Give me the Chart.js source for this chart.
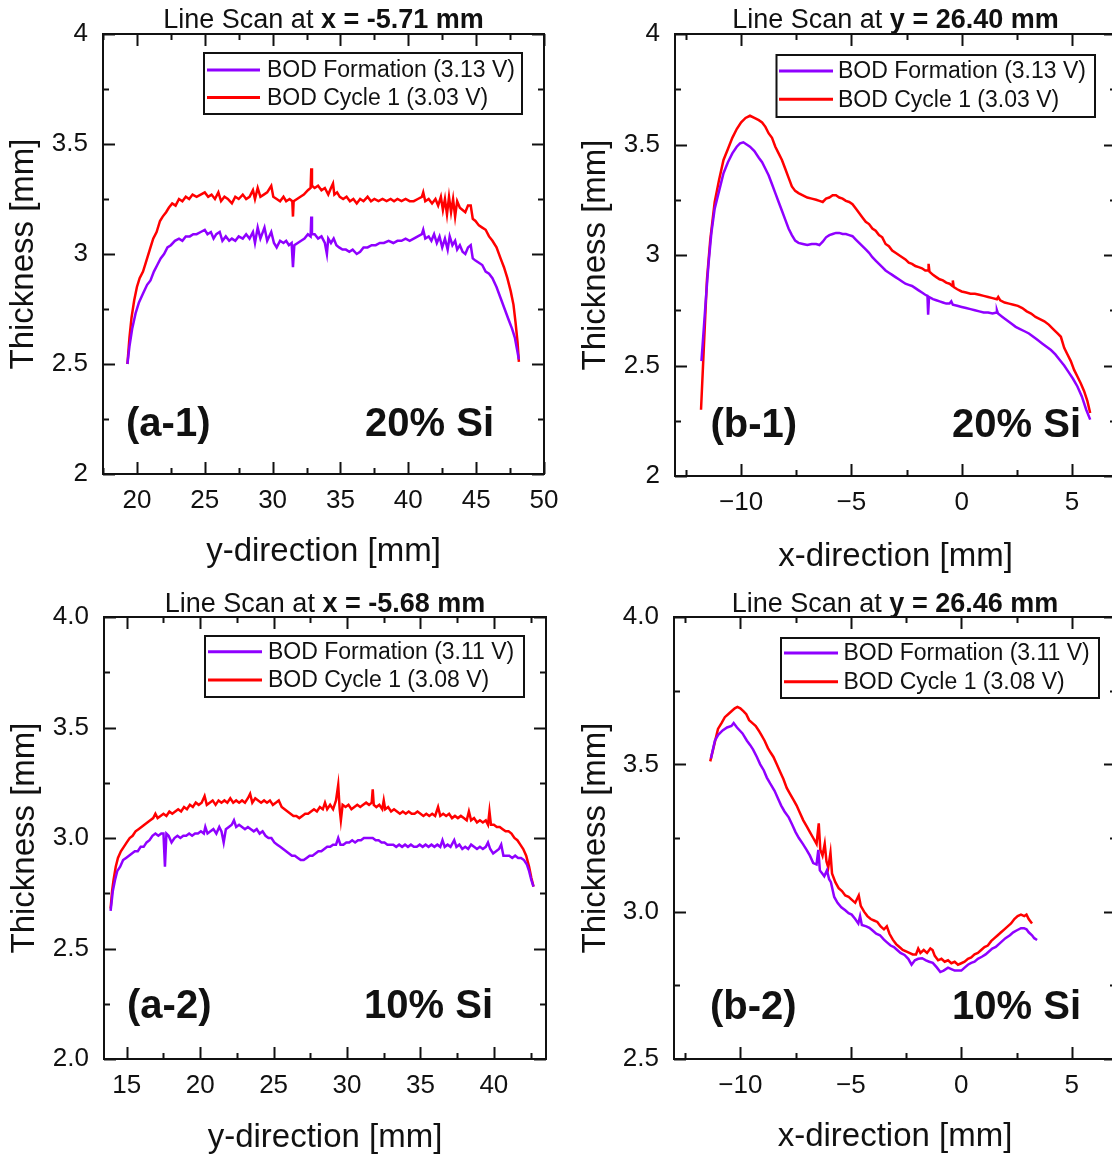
<!DOCTYPE html>
<html>
<head>
<meta charset="utf-8">
<title>Line scans</title>
<script src="https://cdn.jsdelivr.net/npm/chart.js@4.4.1/dist/chart.umd.min.js"></script>
<style>
  html, body { margin: 0; padding: 0; background: #fff; overflow: hidden; }
  body { width: 1112px; height: 1156px; position: relative; }
  canvas { position: absolute; }
</style>
</head>
<body>
<canvas id="a1" width="575" height="580" style="left:0;top:0"></canvas>
<canvas id="b1" width="570" height="580" style="left:560px;top:0"></canvas>
<canvas id="a2" width="575" height="576" style="left:0;top:580px"></canvas>
<canvas id="b2" width="570" height="576" style="left:560px;top:580px"></canvas>
<script>
// ---- data: [position mm, thickness mm] ----

// (a-1) 20% Si, scan at x = -5.71 mm
const a1Formation = [
  [19.30, 2.50], [19.45, 2.58], [19.65, 2.66], [19.90, 2.73], [20.15, 2.78], [20.45, 2.82],
  [20.75, 2.86], [21.00, 2.88], [21.25, 2.92], [21.50, 2.95], [21.75, 2.98], [22.00, 3.00],
  [22.25, 3.03], [22.50, 3.04], [22.80, 3.06], [23.10, 3.07], [23.35, 3.06], [23.60, 3.08],
  [23.90, 3.08], [24.15, 3.09], [24.40, 3.09], [24.70, 3.10], [25.00, 3.11], [25.20, 3.09],
  [25.45, 3.10], [25.65, 3.07], [25.85, 3.09], [26.10, 3.10], [26.30, 3.06], [26.55, 3.08],
  [26.80, 3.06], [27.00, 3.07], [27.25, 3.06], [27.50, 3.08], [27.80, 3.07], [28.05, 3.09],
  [28.30, 3.07], [28.55, 3.10], [28.70, 3.05], [28.90, 3.12], [29.10, 3.07], [29.40, 3.12],
  [29.60, 3.06], [29.90, 3.10], [30.10, 3.05], [30.30, 3.03], [30.55, 3.06], [30.80, 3.05],
  [31.00, 3.06], [31.20, 3.04], [31.40, 3.05], [31.50, 2.94], [31.60, 3.04], [31.85, 3.05],
  [32.10, 3.06], [32.35, 3.07], [32.60, 3.09], [32.80, 3.08], [32.85, 3.17], [32.90, 3.09],
  [33.10, 3.09], [33.35, 3.07], [33.60, 3.08], [33.85, 3.05], [34.00, 3.00], [34.10, 3.07],
  [34.30, 3.05], [34.50, 3.07], [34.70, 3.04], [34.90, 3.03], [35.15, 3.02], [35.40, 3.02],
  [35.65, 3.01], [35.90, 3.02], [36.20, 3.00], [36.45, 3.01], [36.70, 3.03], [37.00, 3.03],
  [37.30, 3.04], [37.60, 3.04], [37.90, 3.05], [38.20, 3.05], [38.55, 3.06], [38.90, 3.05],
  [39.20, 3.06], [39.50, 3.06], [39.80, 3.07], [40.10, 3.06], [40.40, 3.07], [40.70, 3.08],
  [41.00, 3.09], [41.10, 3.11], [41.25, 3.07], [41.50, 3.08], [41.70, 3.06], [41.90, 3.09],
  [42.10, 3.05], [42.30, 3.08], [42.50, 3.03], [42.70, 3.07], [42.90, 3.02], [43.05, 3.08],
  [43.25, 3.04], [43.45, 3.06], [43.60, 3.02], [43.80, 3.04], [44.00, 3.01], [44.20, 3.00],
  [44.40, 3.03], [44.60, 3.04], [44.75, 2.98], [44.95, 2.97], [45.20, 2.96], [45.45, 2.95],
  [45.70, 2.92], [45.95, 2.91], [46.20, 2.89], [46.50, 2.85], [46.80, 2.80], [47.10, 2.75],
  [47.40, 2.70], [47.65, 2.66], [47.85, 2.62], [48.00, 2.57], [48.15, 2.52]
];
const a1Cycle = [
  [19.30, 2.50], [19.45, 2.62], [19.60, 2.71], [19.80, 2.79], [20.00, 2.85], [20.20, 2.89],
  [20.45, 2.92], [20.70, 2.97], [21.00, 3.03], [21.20, 3.07], [21.45, 3.10], [21.70, 3.15],
  [21.90, 3.17], [22.15, 3.19], [22.35, 3.21], [22.60, 3.23], [22.85, 3.22], [23.10, 3.25],
  [23.35, 3.24], [23.60, 3.26], [23.85, 3.25], [24.10, 3.27], [24.40, 3.26], [24.70, 3.27],
  [25.00, 3.28], [25.25, 3.26], [25.50, 3.27], [25.75, 3.25], [26.00, 3.28], [26.20, 3.24],
  [26.45, 3.26], [26.70, 3.25], [27.00, 3.23], [27.25, 3.26], [27.50, 3.25], [27.80, 3.27],
  [28.05, 3.25], [28.30, 3.26], [28.55, 3.29], [28.70, 3.25], [28.90, 3.30], [29.10, 3.26],
  [29.35, 3.27], [29.60, 3.28], [29.90, 3.31], [30.05, 3.26], [30.30, 3.25], [30.55, 3.24],
  [30.80, 3.26], [31.00, 3.24], [31.25, 3.25], [31.45, 3.24], [31.50, 3.17], [31.55, 3.24],
  [31.80, 3.25], [32.05, 3.26], [32.30, 3.27], [32.60, 3.29], [32.80, 3.30], [32.85, 3.39],
  [32.90, 3.31], [33.10, 3.30], [33.35, 3.31], [33.60, 3.29], [33.85, 3.30], [34.10, 3.27],
  [34.30, 3.30], [34.45, 3.32], [34.55, 3.27], [34.75, 3.28], [34.95, 3.26], [35.20, 3.25],
  [35.45, 3.26], [35.70, 3.24], [35.95, 3.25], [36.20, 3.23], [36.45, 3.25], [36.70, 3.24],
  [37.00, 3.26], [37.25, 3.24], [37.50, 3.25], [37.80, 3.24], [38.10, 3.25], [38.40, 3.24],
  [38.70, 3.25], [38.95, 3.24], [39.20, 3.25], [39.50, 3.24], [39.80, 3.25], [40.10, 3.24],
  [40.40, 3.24], [40.70, 3.25], [41.00, 3.26], [41.10, 3.28], [41.25, 3.24], [41.50, 3.25],
  [41.75, 3.23], [42.00, 3.25], [42.20, 3.22], [42.40, 3.26], [42.55, 3.20], [42.70, 3.25],
  [42.85, 3.18], [43.00, 3.26], [43.15, 3.19], [43.30, 3.25], [43.45, 3.17], [43.60, 3.24],
  [43.80, 3.21], [44.00, 3.20], [44.20, 3.19], [44.40, 3.22], [44.60, 3.22], [44.75, 3.16],
  [44.95, 3.15], [45.20, 3.13], [45.45, 3.12], [45.70, 3.11], [45.95, 3.08], [46.20, 3.06],
  [46.50, 3.03], [46.80, 2.98], [47.05, 2.94], [47.30, 2.89], [47.55, 2.83], [47.75, 2.77],
  [47.90, 2.69], [48.05, 2.60], [48.15, 2.51]
];

// (b-1) 20% Si, scan at y = 26.40 mm
const b1Formation = [
  [-11.80, 2.52], [-11.70, 2.66], [-11.60, 2.80], [-11.48, 2.96], [-11.35, 3.10], [-11.20, 3.21],
  [-11.00, 3.29], [-10.80, 3.37], [-10.60, 3.42], [-10.40, 3.46], [-10.20, 3.49], [-10.05, 3.505],
  [-9.90, 3.51], [-9.75, 3.50], [-9.60, 3.49], [-9.40, 3.47], [-9.20, 3.44], [-9.05, 3.42],
  [-8.90, 3.39], [-8.75, 3.36], [-8.60, 3.32], [-8.45, 3.28], [-8.30, 3.24], [-8.15, 3.20],
  [-8.00, 3.16], [-7.85, 3.12], [-7.70, 3.09], [-7.55, 3.065], [-7.40, 3.055], [-7.20, 3.05],
  [-7.00, 3.045], [-6.80, 3.05], [-6.60, 3.05], [-6.45, 3.045], [-6.30, 3.06], [-6.15, 3.08],
  [-6.00, 3.09], [-5.85, 3.095], [-5.70, 3.10], [-5.55, 3.10], [-5.40, 3.095], [-5.25, 3.095],
  [-5.10, 3.09], [-4.95, 3.085], [-4.80, 3.07], [-4.65, 3.055], [-4.50, 3.04], [-4.35, 3.025],
  [-4.20, 3.01], [-4.05, 2.99], [-3.90, 2.975], [-3.75, 2.96], [-3.60, 2.945], [-3.45, 2.93],
  [-3.30, 2.92], [-3.15, 2.91], [-3.00, 2.90], [-2.85, 2.89], [-2.70, 2.88], [-2.55, 2.87],
  [-2.40, 2.865], [-2.25, 2.86], [-2.10, 2.85], [-1.95, 2.84], [-1.80, 2.83], [-1.65, 2.82],
  [-1.55, 2.815], [-1.52, 2.73], [-1.48, 2.81], [-1.30, 2.80], [-1.15, 2.795], [-1.00, 2.79],
  [-0.85, 2.785], [-0.70, 2.78], [-0.55, 2.78], [-0.47, 2.79], [-0.40, 2.775], [-0.20, 2.77],
  [0.00, 2.765], [0.20, 2.76], [0.40, 2.755], [0.60, 2.75], [0.80, 2.745], [1.00, 2.74],
  [1.20, 2.74], [1.40, 2.735], [1.58, 2.74], [1.60, 2.75], [1.65, 2.735], [1.85, 2.72],
  [2.05, 2.705], [2.25, 2.69], [2.45, 2.675], [2.65, 2.665], [2.85, 2.655], [3.05, 2.645],
  [3.25, 2.63], [3.45, 2.615], [3.65, 2.60], [3.85, 2.585], [4.05, 2.57], [4.25, 2.55],
  [4.45, 2.525], [4.65, 2.50], [4.85, 2.47], [5.05, 2.44], [5.25, 2.405], [5.45, 2.36],
  [5.65, 2.30], [5.83, 2.255]
];
const b1Cycle = [
  [-11.82, 2.30], [-11.72, 2.52], [-11.62, 2.74], [-11.55, 2.89], [-11.40, 3.07], [-11.20, 3.24],
  [-11.00, 3.34], [-10.80, 3.43], [-10.60, 3.48], [-10.40, 3.53], [-10.20, 3.57], [-10.00, 3.60],
  [-9.80, 3.62], [-9.60, 3.63], [-9.40, 3.62], [-9.20, 3.61], [-9.05, 3.60], [-8.90, 3.58],
  [-8.75, 3.55], [-8.60, 3.53], [-8.45, 3.49], [-8.30, 3.46], [-8.15, 3.43], [-8.00, 3.39],
  [-7.85, 3.35], [-7.70, 3.31], [-7.55, 3.29], [-7.40, 3.28], [-7.20, 3.27], [-7.00, 3.26],
  [-6.80, 3.255], [-6.60, 3.25], [-6.45, 3.245], [-6.30, 3.24], [-6.15, 3.255], [-6.00, 3.26],
  [-5.85, 3.27], [-5.70, 3.27], [-5.55, 3.26], [-5.40, 3.255], [-5.25, 3.245], [-5.10, 3.24],
  [-4.95, 3.23], [-4.80, 3.21], [-4.65, 3.19], [-4.50, 3.17], [-4.35, 3.15], [-4.20, 3.14],
  [-4.05, 3.12], [-3.90, 3.11], [-3.75, 3.09], [-3.60, 3.08], [-3.45, 3.05], [-3.30, 3.04],
  [-3.15, 3.02], [-3.00, 3.01], [-2.85, 3.00], [-2.70, 2.99], [-2.55, 2.98], [-2.40, 2.965],
  [-2.25, 2.96], [-2.10, 2.95], [-1.95, 2.945], [-1.80, 2.94], [-1.65, 2.93], [-1.52, 2.93],
  [-1.50, 2.96], [-1.46, 2.925], [-1.30, 2.91], [-1.15, 2.90], [-1.00, 2.89], [-0.85, 2.885],
  [-0.70, 2.875], [-0.55, 2.87], [-0.42, 2.86], [-0.40, 2.885], [-0.36, 2.855], [-0.20, 2.845],
  [0.00, 2.835], [0.20, 2.83], [0.40, 2.825], [0.60, 2.825], [0.80, 2.82], [1.00, 2.815],
  [1.20, 2.81], [1.40, 2.805], [1.60, 2.80], [1.66, 2.81], [1.75, 2.795], [1.95, 2.785],
  [2.15, 2.78], [2.35, 2.775], [2.55, 2.77], [2.75, 2.76], [2.95, 2.745], [3.15, 2.735],
  [3.35, 2.72], [3.55, 2.71], [3.75, 2.70], [3.95, 2.685], [4.15, 2.665], [4.35, 2.645],
  [4.50, 2.63], [4.65, 2.58], [4.80, 2.55], [4.95, 2.52], [5.10, 2.48], [5.25, 2.45],
  [5.40, 2.42], [5.55, 2.385], [5.70, 2.34], [5.83, 2.285]
];

// (a-2) 10% Si, scan at x = -5.68 mm
const a2Formation = [
  [13.90, 2.67], [14.05, 2.76], [14.20, 2.81], [14.35, 2.85], [14.55, 2.87], [14.75, 2.90],
  [14.95, 2.91], [15.15, 2.92], [15.35, 2.93], [15.55, 2.94], [15.75, 2.94], [15.95, 2.96],
  [16.15, 2.96], [16.35, 2.98], [16.55, 2.99], [16.75, 3.01], [16.95, 3.02], [17.15, 3.01],
  [17.35, 3.02], [17.50, 3.02], [17.60, 2.87], [17.70, 3.02], [17.85, 3.01], [18.05, 2.98],
  [18.25, 3.00], [18.45, 3.01], [18.65, 3.00], [18.85, 3.01], [19.05, 3.01], [19.25, 3.02],
  [19.45, 3.01], [19.65, 3.02], [19.85, 3.02], [20.05, 3.03], [20.25, 3.02], [20.35, 3.05],
  [20.50, 3.02], [20.70, 3.03], [20.90, 3.04], [21.10, 3.02], [21.30, 3.05], [21.45, 3.03],
  [21.60, 2.98], [21.75, 3.04], [21.95, 3.05], [22.15, 3.06], [22.30, 3.08], [22.45, 3.05],
  [22.65, 3.06], [22.85, 3.05], [23.05, 3.04], [23.25, 3.05], [23.45, 3.04], [23.65, 3.03],
  [23.85, 3.04], [24.05, 3.02], [24.25, 3.03], [24.45, 3.01], [24.65, 3.00], [24.85, 3.00],
  [25.05, 2.98], [25.25, 2.97], [25.45, 2.96], [25.65, 2.95], [25.85, 2.94], [26.05, 2.93],
  [26.25, 2.92], [26.45, 2.92], [26.65, 2.91], [26.85, 2.90], [27.05, 2.90], [27.25, 2.91],
  [27.45, 2.92], [27.65, 2.92], [27.85, 2.93], [28.05, 2.94], [28.25, 2.94], [28.45, 2.95],
  [28.65, 2.96], [28.85, 2.96], [29.05, 2.97], [29.25, 2.97], [29.40, 3.00], [29.55, 2.97],
  [29.75, 2.97], [29.95, 2.98], [30.15, 2.98], [30.35, 2.99], [30.55, 2.98], [30.75, 2.99],
  [30.95, 2.99], [31.15, 3.00], [31.35, 3.00], [31.55, 3.00], [31.75, 3.00], [31.95, 2.99],
  [32.15, 2.99], [32.35, 2.98], [32.55, 2.98], [32.75, 2.97], [32.95, 2.97], [33.15, 2.97],
  [33.35, 2.96], [33.55, 2.97], [33.75, 2.96], [33.95, 2.97], [34.15, 2.96], [34.35, 2.97],
  [34.55, 2.96], [34.75, 2.96], [34.95, 2.97], [35.15, 2.96], [35.35, 2.97], [35.55, 2.96],
  [35.75, 2.97], [35.95, 2.96], [36.15, 2.97], [36.35, 2.96], [36.50, 2.99], [36.65, 2.96],
  [36.85, 2.97], [37.05, 2.96], [37.30, 2.99], [37.45, 2.96], [37.65, 2.97], [37.85, 2.95],
  [38.05, 2.96], [38.25, 2.95], [38.45, 2.97], [38.65, 2.96], [38.85, 2.95], [39.05, 2.96],
  [39.25, 2.95], [39.45, 2.96], [39.60, 2.98], [39.75, 2.95], [39.95, 2.93], [40.15, 2.94],
  [40.35, 2.95], [40.50, 2.97], [40.65, 2.92], [40.85, 2.92], [41.05, 2.92], [41.25, 2.91],
  [41.45, 2.92], [41.65, 2.91], [41.85, 2.91], [42.05, 2.90], [42.25, 2.88], [42.40, 2.85],
  [42.55, 2.81], [42.70, 2.78]
];
const a2Cycle = [
  [13.90, 2.68], [14.00, 2.76], [14.10, 2.81], [14.25, 2.87], [14.40, 2.91], [14.60, 2.94],
  [14.80, 2.96], [15.00, 2.98], [15.20, 3.00], [15.40, 3.01], [15.60, 3.03], [15.80, 3.04],
  [16.00, 3.05], [16.20, 3.06], [16.40, 3.07], [16.60, 3.08], [16.80, 3.09], [16.95, 3.11],
  [17.10, 3.09], [17.30, 3.10], [17.50, 3.11], [17.70, 3.10], [17.90, 3.12], [18.10, 3.11],
  [18.30, 3.12], [18.50, 3.13], [18.70, 3.12], [18.90, 3.14], [19.10, 3.13], [19.30, 3.15],
  [19.50, 3.14], [19.70, 3.16], [19.90, 3.15], [20.10, 3.16], [20.30, 3.19], [20.45, 3.15],
  [20.65, 3.16], [20.85, 3.17], [21.05, 3.15], [21.25, 3.17], [21.45, 3.16], [21.65, 3.17],
  [21.85, 3.16], [22.05, 3.18], [22.25, 3.16], [22.45, 3.17], [22.65, 3.16], [22.85, 3.17],
  [23.05, 3.16], [23.25, 3.18], [23.40, 3.20], [23.55, 3.16], [23.75, 3.18], [23.95, 3.17],
  [24.15, 3.16], [24.35, 3.17], [24.55, 3.16], [24.75, 3.17], [24.95, 3.15], [25.15, 3.16],
  [25.35, 3.17], [25.55, 3.14], [25.75, 3.13], [25.95, 3.12], [26.15, 3.11], [26.35, 3.10],
  [26.55, 3.10], [26.75, 3.09], [26.95, 3.10], [27.15, 3.11], [27.35, 3.11], [27.55, 3.12],
  [27.75, 3.13], [27.95, 3.12], [28.15, 3.14], [28.35, 3.13], [28.50, 3.16], [28.65, 3.13],
  [28.85, 3.15], [29.05, 3.13], [29.25, 3.17], [29.40, 3.24], [29.50, 3.13], [29.58, 3.08],
  [29.70, 3.15], [29.90, 3.14], [30.10, 3.15], [30.30, 3.13], [30.50, 3.14], [30.70, 3.15],
  [30.90, 3.14], [31.10, 3.15], [31.30, 3.16], [31.50, 3.15], [31.68, 3.16], [31.75, 3.22],
  [31.82, 3.15], [32.00, 3.14], [32.20, 3.15], [32.40, 3.13], [32.50, 3.17], [32.60, 3.13],
  [32.80, 3.14], [33.00, 3.12], [33.20, 3.13], [33.40, 3.12], [33.60, 3.11], [33.80, 3.12],
  [34.00, 3.11], [34.20, 3.12], [34.40, 3.11], [34.60, 3.11], [34.80, 3.12], [35.00, 3.11],
  [35.20, 3.10], [35.40, 3.11], [35.60, 3.10], [35.80, 3.11], [36.00, 3.10], [36.20, 3.14],
  [36.35, 3.10], [36.55, 3.11], [36.75, 3.10], [36.95, 3.11], [37.15, 3.09], [37.35, 3.10],
  [37.55, 3.09], [37.75, 3.10], [37.95, 3.09], [38.15, 3.08], [38.30, 3.12], [38.45, 3.08],
  [38.65, 3.09], [38.85, 3.07], [39.05, 3.08], [39.25, 3.07], [39.45, 3.08], [39.60, 3.06],
  [39.70, 3.12], [39.80, 3.06], [40.00, 3.06], [40.20, 3.05], [40.40, 3.05], [40.60, 3.04],
  [40.80, 3.03], [41.00, 3.03], [41.20, 3.02], [41.40, 3.00], [41.60, 2.99], [41.80, 2.97],
  [42.00, 2.95], [42.20, 2.92], [42.40, 2.87], [42.55, 2.82], [42.70, 2.78]
];

// (b-2) 10% Si, scan at y = 26.46 mm
const b2Formation = [
  [-11.33, 3.52], [-11.15, 3.58], [-11.00, 3.60], [-10.80, 3.615], [-10.60, 3.625], [-10.40, 3.63],
  [-10.30, 3.64], [-10.15, 3.625], [-9.90, 3.605], [-9.70, 3.58], [-9.55, 3.565], [-9.42, 3.55],
  [-9.25, 3.525], [-9.10, 3.50], [-8.94, 3.48], [-8.80, 3.455], [-8.65, 3.435], [-8.45, 3.41],
  [-8.30, 3.385], [-8.15, 3.36], [-8.00, 3.34], [-7.81, 3.32], [-7.65, 3.295], [-7.50, 3.27],
  [-7.35, 3.25], [-7.17, 3.23], [-7.00, 3.21], [-6.85, 3.19], [-6.70, 3.165], [-6.55, 3.16],
  [-6.47, 3.21], [-6.40, 3.14], [-6.30, 3.13], [-6.20, 3.12], [-6.08, 3.14], [-5.98, 3.11],
  [-5.90, 3.10], [-5.75, 3.05], [-5.60, 3.03], [-5.43, 3.015], [-5.25, 3.005], [-5.10, 2.995],
  [-4.96, 2.99], [-4.80, 2.975], [-4.66, 2.96], [-4.58, 2.985], [-4.50, 2.955], [-4.30, 2.95],
  [-4.16, 2.945], [-4.00, 2.935], [-3.85, 2.925], [-3.68, 2.92], [-3.50, 2.905], [-3.35, 2.895],
  [-3.20, 2.885], [-3.05, 2.88], [-2.90, 2.87], [-2.75, 2.86], [-2.57, 2.853], [-2.40, 2.84],
  [-2.25, 2.82], [-2.10, 2.835], [-1.95, 2.84], [-1.77, 2.842], [-1.60, 2.835], [-1.45, 2.83],
  [-1.29, 2.826], [-1.10, 2.81], [-0.95, 2.795], [-0.80, 2.80], [-0.60, 2.81], [-0.45, 2.805],
  [-0.30, 2.80], [-0.15, 2.80], [0.00, 2.80], [0.15, 2.81], [0.30, 2.82], [0.45, 2.826],
  [0.60, 2.83], [0.75, 2.84], [0.93, 2.847], [1.10, 2.855], [1.25, 2.865], [1.40, 2.875],
  [1.56, 2.88], [1.70, 2.89], [1.85, 2.90], [2.00, 2.91], [2.20, 2.92], [2.35, 2.93],
  [2.52, 2.937], [2.70, 2.944], [2.84, 2.944], [2.95, 2.94], [3.05, 2.93], [3.20, 2.92],
  [3.30, 2.91], [3.43, 2.904]
];
const b2Cycle = [
  [-11.36, 3.51], [-11.20, 3.56], [-11.01, 3.62], [-10.85, 3.64], [-10.70, 3.66], [-10.55, 3.67],
  [-10.40, 3.68], [-10.25, 3.69], [-10.13, 3.695], [-10.00, 3.69], [-9.85, 3.68], [-9.73, 3.67],
  [-9.60, 3.65], [-9.45, 3.64], [-9.30, 3.63], [-9.17, 3.615], [-9.05, 3.60], [-8.90, 3.58],
  [-8.75, 3.555], [-8.63, 3.54], [-8.50, 3.525], [-8.35, 3.50], [-8.20, 3.475], [-8.05, 3.45],
  [-7.90, 3.42], [-7.75, 3.40], [-7.60, 3.38], [-7.45, 3.36], [-7.30, 3.335], [-7.15, 3.31],
  [-7.00, 3.29], [-6.85, 3.27], [-6.70, 3.25], [-6.55, 3.23], [-6.45, 3.30], [-6.38, 3.21],
  [-6.28, 3.19], [-6.18, 3.23], [-6.10, 3.17], [-6.02, 3.15], [-5.92, 3.20], [-5.85, 3.13],
  [-5.70, 3.10], [-5.55, 3.08], [-5.40, 3.07], [-5.25, 3.055], [-5.10, 3.05], [-4.95, 3.04],
  [-4.80, 3.03], [-4.64, 3.055], [-4.55, 3.02], [-4.40, 3.00], [-4.25, 2.985], [-4.10, 2.975],
  [-3.95, 2.97], [-3.80, 2.965], [-3.65, 2.95], [-3.50, 2.94], [-3.37, 2.95], [-3.25, 2.925],
  [-3.10, 2.905], [-2.95, 2.89], [-2.80, 2.88], [-2.65, 2.87], [-2.50, 2.865], [-2.35, 2.86],
  [-2.20, 2.855], [-2.05, 2.855], [-1.95, 2.875], [-1.85, 2.86], [-1.70, 2.87], [-1.55, 2.86],
  [-1.40, 2.875], [-1.30, 2.87], [-1.20, 2.85], [-1.05, 2.835], [-0.90, 2.84], [-0.75, 2.83],
  [-0.60, 2.835], [-0.45, 2.825], [-0.30, 2.83], [-0.15, 2.82], [0.00, 2.825], [0.15, 2.83],
  [0.30, 2.84], [0.45, 2.845], [0.60, 2.855], [0.75, 2.86], [0.90, 2.87], [1.05, 2.88],
  [1.20, 2.885], [1.35, 2.90], [1.50, 2.91], [1.65, 2.92], [1.80, 2.93], [1.95, 2.94],
  [2.10, 2.95], [2.25, 2.96], [2.40, 2.975], [2.55, 2.985], [2.70, 2.99], [2.85, 2.985],
  [2.95, 2.99], [3.05, 2.975], [3.20, 2.96]
];

// tick labels
const a1XTicks = [20, 25, 30, 35, 40, 45, 50];
const a2XTicks = [15, 20, 25, 30, 35, 40];
const bXTicks = [-10, -5, 0, 5];
const aYTicks = [2, 2.5, 3, 3.5, 4];
const b2YTicks = [2.5, 3, 3.5, 4];

// ---- drawing ----
const FONT = '"Liberation Sans", Arial, Helvetica, sans-serif';
const INK = '#111';
const PURPLE = '#8f00ff';
const RED = '#ff0000';

function toPoints(pairs) {
  return pairs.map(p => ({ x: p[0], y: p[1] }));
}

function minorTicks(major, min, max) {
  const step = major[1] - major[0];
  const out = [];
  for (let v = major[0] - step / 2; v <= max + 1e-9; v += step) {
    if (v >= min - 1e-9) out.push(v);
  }
  return out;
}

function minusSign(v) {
  return v < 0 ? '\u2212' + Math.abs(v) : String(v);
}

// frame, inward ticks on all four sides, legend box, title and panel tags
const panelDecor = {
  id: 'panelDecor',
  afterDatasetsDraw(chart, args, o) {
    const { ctx, chartArea: a, scales: { x, y } } = chart;
    ctx.save();
    ctx.strokeStyle = INK;
    ctx.lineWidth = 2;
    ctx.lineCap = 'butt';
    ctx.strokeRect(a.left, a.top, a.right - a.left, a.bottom - a.top);

    const seg = (x1, y1, x2, y2) => {
      ctx.beginPath(); ctx.moveTo(x1, y1); ctx.lineTo(x2, y2); ctx.stroke();
    };
    const xMarks = (vals, len) => vals.forEach(v => {
      if (v < x.min || v > x.max) return;
      const p = Math.round(x.getPixelForValue(v)) + 0.5;
      seg(p, a.bottom, p, a.bottom - len);
      seg(p, a.top, p, a.top + len);
    });
    const yMarks = (vals, len) => vals.forEach(v => {
      if (v < y.min || v > y.max) return;
      const p = Math.round(y.getPixelForValue(v)) + 0.5;
      seg(a.left, p, a.left + len, p);
      seg(a.right, p, a.right - len, p);
    });
    xMarks(o.xTicks, 12);
    xMarks(minorTicks(o.xTicks, x.min, x.max), 6);
    yMarks(o.yTicks, 12);
    yMarks(minorTicks(o.yTicks, y.min, y.max), 6);

    // legend
    const L = o.legend;
    ctx.lineWidth = 2;
    ctx.strokeRect(L.x, L.y, L.w, L.h);
    ctx.font = '23px ' + FONT;
    ctx.textAlign = 'left';
    ctx.textBaseline = 'middle';
    chart.data.datasets.forEach((ds, i) => {
      const ry = L.rows[i];
      ctx.strokeStyle = ds.borderColor;
      ctx.lineWidth = 3;
      seg(L.line[0], ry, L.line[1], ry);
      ctx.fillStyle = INK;
      ctx.fillText(ds.label, L.text, ry + 1);
    });

    // title: plain prefix + bold position
    const plainFont = '27px ' + FONT;
    const boldFont = 'bold 27px ' + FONT;
    ctx.font = plainFont;
    const w1 = ctx.measureText(o.title[0]).width;
    ctx.font = boldFont;
    const w2 = ctx.measureText(o.title[1]).width;
    const cx = (a.left + a.right) / 2;
    const x0 = cx - (w1 + w2) / 2;
    ctx.textBaseline = 'alphabetic';
    ctx.fillStyle = INK;
    ctx.font = plainFont;
    ctx.fillText(o.title[0], x0, o.titleY);
    ctx.font = boldFont;
    ctx.fillText(o.title[1], x0 + w1, o.titleY);

    // panel tag and composition
    ctx.font = 'bold 40px ' + FONT;
    ctx.textAlign = 'left';
    ctx.fillText(o.tag, a.left + o.tagLeft, a.bottom - o.tagRise);
    ctx.textAlign = 'right';
    ctx.fillText(o.comp, a.right - o.compRight, a.bottom - o.tagRise);
    ctx.restore();
  }
};

function buildPanel(id, p) {
  const tickFont = { family: FONT, size: 26 };
  const titleFont = { family: FONT, size: 33, lineHeight: 1 };
  new Chart(document.getElementById(id), {
    type: 'line',
    data: {
      datasets: [
        { label: p.labels[0], data: toPoints(p.formation), borderColor: PURPLE, borderWidth: 2.5,
          pointRadius: 0, tension: 0, fill: false },
        { label: p.labels[1], data: toPoints(p.cycle), borderColor: RED, borderWidth: 2.5,
          pointRadius: 0, tension: 0, fill: false }
      ]
    },
    options: {
      responsive: false,
      animation: false,
      events: [],
      layout: { padding: { top: p.padTop, right: p.padRight, left: 0, bottom: 0 } },
      scales: {
        x: {
          type: 'linear', min: p.xMin, max: p.xMax,
          afterBuildTicks: s => { s.ticks = p.xTicks.map(v => ({ value: v })); },
          afterFit: s => { s.height = p.xHeight; s.paddingLeft = 0; s.paddingRight = 0; },
          grid: { display: false, drawTicks: false },
          border: { display: false },
          ticks: { font: tickFont, color: INK, padding: 11, autoSkip: false, maxRotation: 0,
                   callback: v => minusSign(v) },
          title: { display: true, text: p.xTitle, font: titleFont, color: INK,
                   padding: { top: 0, bottom: p.xTitlePad } }
        },
        y: {
          type: 'linear', min: p.yMin, max: p.yMax,
          afterBuildTicks: s => { s.ticks = p.yTicks.map(v => ({ value: v })); },
          afterFit: s => { s.width = p.yWidth; s.paddingTop = 0; s.paddingBottom = 0; },
          grid: { display: false, drawTicks: false },
          border: { display: false },
          ticks: { font: tickFont, color: INK, padding: 15, autoSkip: false,
                   callback: v => p.yFixed ? v.toFixed(1) : String(v) },
          title: { display: true, text: 'Thickness [mm]', font: titleFont, color: INK,
                   padding: { top: p.yTitlePad, bottom: 0 } }
        }
      },
      plugins: {
        legend: { display: false },
        tooltip: { enabled: false },
        panelDecor: {
          xTicks: p.xTicks, yTicks: p.yTicks, legend: p.legend,
          title: p.title, titleY: p.titleY,
          tag: p.tag, comp: p.comp, tagLeft: p.tagLeft, tagRise: p.tagRise, compRight: p.compRight
        }
      }
    },
    plugins: [panelDecor]
  });
}

buildPanel('a1', {
  formation: a1Formation, cycle: a1Cycle,
  labels: ['BOD Formation (3.13 V)', 'BOD Cycle 1 (3.03 V)'],
  xMin: 17.5, xMax: 50, yMin: 2, yMax: 4, xTicks: a1XTicks, yTicks: aYTicks, yFixed: false,
  padTop: 34, padRight: 31, yWidth: 103, xHeight: 106,
  xTitle: 'y-direction [mm]', xTitlePad: 11.5, yTitlePad: 7.5,
  title: ['Line Scan at ', 'x = -5.71 mm'], titleY: 28,
  legend: { x: 204, y: 53, w: 318, h: 61, rows: [70, 97.5], line: [207, 260], text: 267 },
  tag: '(a-1)', comp: '20% Si', tagLeft: 23, tagRise: 38, compRight: 50
});

buildPanel('b1', {
  formation: b1Formation, cycle: b1Cycle,
  labels: ['BOD Formation (3.13 V)', 'BOD Cycle 1 (3.03 V)'],
  xMin: -13, xMax: 7, yMin: 2, yMax: 4, xTicks: bXTicks, yTicks: aYTicks, yFixed: false,
  padTop: 34, padRight: 14, yWidth: 115, xHeight: 104,
  xTitle: 'x-direction [mm]', xTitlePad: 6.8, yTitlePad: 19.5,
  title: ['Line Scan at ', 'y = 26.40 mm'], titleY: 28,
  legend: { x: 216.5, y: 55, w: 318.5, h: 62, rows: [71, 99.3], line: [219, 273], text: 278 },
  tag: '(b-1)', comp: '20% Si', tagLeft: 35.5, tagRise: 39, compRight: 35
});

buildPanel('a2', {
  formation: a2Formation, cycle: a2Cycle,
  labels: ['BOD Formation (3.11 V)', 'BOD Cycle 1 (3.08 V)'],
  xMin: 13.45, xMax: 43.55, yMin: 2, yMax: 4, xTicks: a2XTicks, yTicks: aYTicks, yFixed: true,
  padTop: 37, padRight: 29, yWidth: 104, xHeight: 97,
  xTitle: 'y-direction [mm]', xTitlePad: 2, yTitlePad: 8.5,
  title: ['Line Scan at ', 'x = -5.68 mm'], titleY: 32,
  legend: { x: 205, y: 56, w: 319, h: 61, rows: [71.7, 100], line: [208, 262], text: 268 },
  tag: '(a-2)', comp: '10% Si', tagLeft: 23, tagRise: 41, compRight: 53
});

buildPanel('b2', {
  formation: b2Formation, cycle: b2Cycle,
  labels: ['BOD Formation (3.11 V)', 'BOD Cycle 1 (3.08 V)'],
  xMin: -13, xMax: 7, yMin: 2.5, yMax: 4, xTicks: bXTicks, yTicks: b2YTicks, yFixed: true,
  padTop: 37, padRight: 14, yWidth: 114, xHeight: 97,
  xTitle: 'x-direction [mm]', xTitlePad: 2.8, yTitlePad: 19.5,
  title: ['Line Scan at ', 'y = 26.46 mm'], titleY: 32,
  legend: { x: 221, y: 58, w: 318, h: 60, rows: [73, 101.7], line: [224, 278], text: 283.5 },
  tag: '(b-2)', comp: '10% Si', tagLeft: 36, tagRise: 40, compRight: 35
});
</script>
</body>
</html>
